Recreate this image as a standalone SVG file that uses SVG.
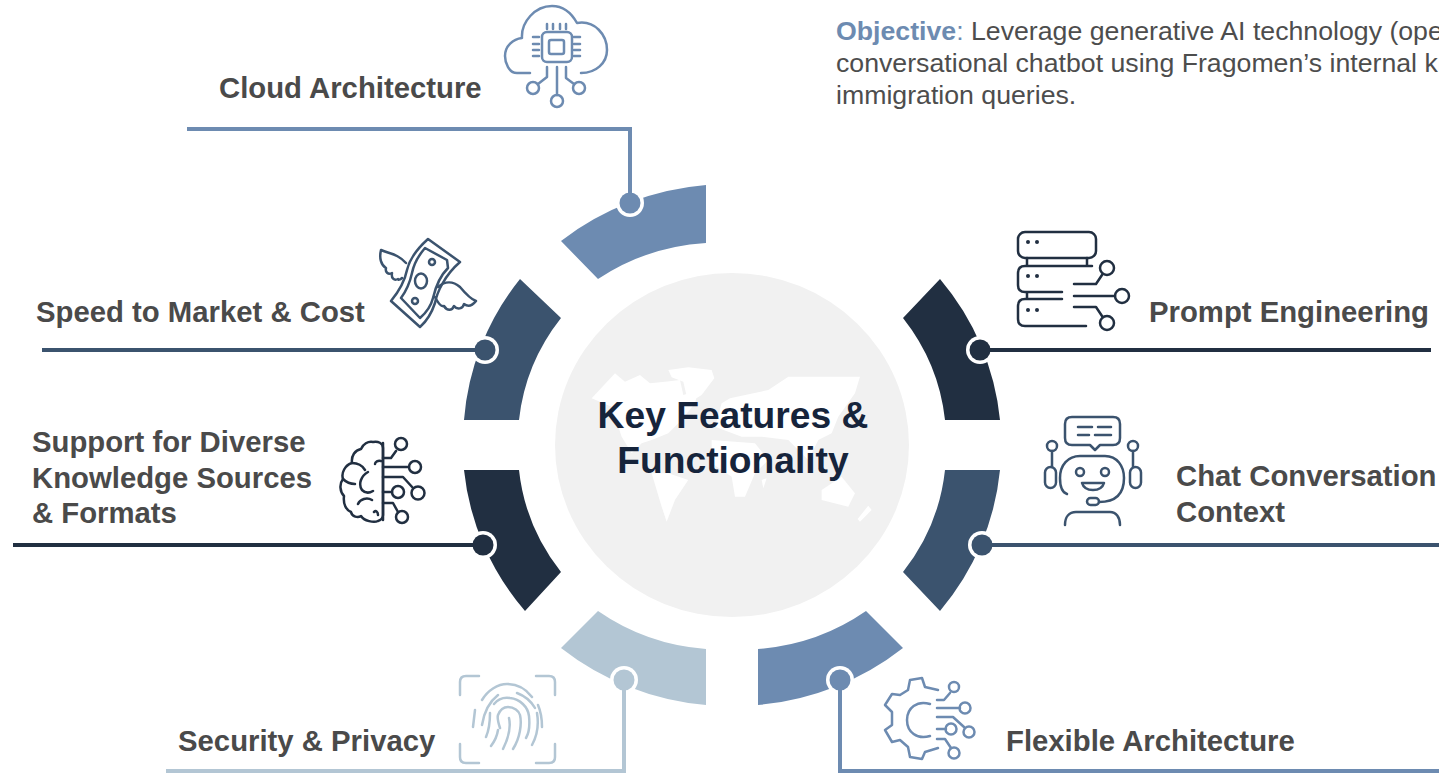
<svg xmlns="http://www.w3.org/2000/svg" width="1439" height="773" viewBox="0 0 1439 773">
<style>
text{font-family:"Liberation Sans",Arial,sans-serif}
.lbl{font-weight:700;font-size:29.3px;fill:#4a4a4a}
.obj{font-size:26.7px;fill:#4d4d4d}
.ttl{font-weight:700;font-size:37.2px;fill:#16243b;text-anchor:middle}
.ln{fill:none;stroke-width:4;stroke-linejoin:miter}
.ic{fill:none;stroke-width:2.5;stroke-linecap:round;stroke-linejoin:round}
.a{fill:#6d8bb1}.b{fill:#3b536e}.c{fill:#212f41}.d{fill:#b3c6d4}
.sa{stroke:#6d8bb1}.sb{stroke:#3b536e}.sc{stroke:#212f41}.sd{stroke:#b3c6d4}
</style>
<rect width="1439" height="773" fill="#fff"/>
<g id="hub">
<ellipse cx="732" cy="445" rx="177" ry="172" fill="#f1f1f1"/>
<g id="map" fill="#fff" transform="translate(555 340) scale(.3333)">
<path d="M110 175L180 100L210 125L255 105L285 130L330 125L375 120L385 165L430 150L420 190L380 240L340 280L290 300L260 310L230 340L200 290L170 200Z"/>
<path d="M340 90L400 82L470 90L478 115L440 165L400 190L385 125L350 112Z"/>
<path d="M290 400L340 400L400 420L360 480L335 545L320 500Z"/>
<path d="M525 175L640 150L700 110L915 110L900 160L850 230L830 280L790 300L760 360L700 300L620 290L560 290L480 260L500 190Z"/>
<path d="M470 300L600 310L640 360L600 400L570 470L540 470L530 410L470 370Z"/>
<path d="M620 420L635 415L625 445Z"/>
<path d="M800 450L860 410L900 460L880 500L800 480Z"/>
<path d="M940 497L950 510L915 545L908 537Z"/>
</g>
<text class="ttl" x="733" y="428">Key Features &amp;</text>
<text class="ttl" x="733" y="473">Functionality</text>
</g>
<g id="ring">
<path class="a" d="M706 185A269 261 0 0 0 561 241L598 279A213 204 0 0 1 706 243Z"/>
<path class="b" d="M520 279A269 261 0 0 0 464 420H519A213 204 0 0 1 561 318Z"/>
<path class="c" d="M464 470A269 261 0 0 0 525 611L561 572A213 204 0 0 1 519 470Z"/>
<path class="d" d="M561 648A269 261 0 0 0 706 705V649A213 204 0 0 1 598 611Z"/>
<path class="a" d="M758 705A269 261 0 0 0 903 648L866 611A213 204 0 0 1 758 649Z"/>
<path class="b" d="M940 611A269 261 0 0 0 1000 470H945A213 204 0 0 1 903 572Z"/>
<path class="c" d="M1000 420A269 261 0 0 0 940 279L903 318A213 204 0 0 1 945 420Z"/>
</g>
<g id="connectors">
<g fill="#fff">
<circle cx="630" cy="203" r="14"/><circle cx="485" cy="350" r="14"/><circle cx="483" cy="545" r="14"/><circle cx="624" cy="680" r="14"/><circle cx="840" cy="680" r="14"/><circle cx="982" cy="545" r="14"/><circle cx="980" cy="350" r="14"/>
</g>
<path class="ln sa" d="M187 129H630V203"/>
<path class="ln sb" d="M42 350H485"/>
<path class="ln sc" d="M13 545H483"/>
<path class="ln sd" d="M166 771H624V680"/>
<path class="ln sa" d="M840 680V771H1439"/>
<path class="ln sb" d="M982 545H1439"/>
<path class="ln sc" d="M980 350H1431"/>
<circle class="a" cx="630" cy="203" r="10.5"/>
<circle class="b" cx="485" cy="350" r="10.5"/>
<circle class="c" cx="483" cy="545" r="10.5"/>
<circle class="d" cx="624" cy="680" r="10.5"/>
<circle class="a" cx="840" cy="680" r="10.5"/>
<circle class="b" cx="982" cy="545" r="10.5"/>
<circle class="c" cx="980" cy="350" r="10.5"/>
</g>
<g id="objective">
<text class="obj" x="836" y="40"><tspan fill="#6d8bb1"><tspan font-weight="700">Objective</tspan>:</tspan> Leverage generative AI technology (ope</text>
<text class="obj" x="836" y="72">conversational chatbot using Fragomen’s internal kn</text>
<text class="obj" x="836" y="104">immigration queries.</text>
</g>
<g id="cloud-architecture">
<text class="lbl" x="219" y="98">Cloud Architecture</text>
<g class="ic sa">
<path d="M530 73H517C509 73 505 63 505 56C505 46 513 39 522 38C521 22 535 6 552 6C565 6 572 14 577 23C595 20 607 35 607 50C607 63 596 73 581 73"/>
<rect x="542" y="32" width="30" height="30" rx="5"/><rect x="549" y="40" width="15" height="14" rx="2"/>
<path d="M547 24V29M553 24V29M560 24V29M566 24V29M533 37H539M533 44H539M533 50H539M533 56H539M574 37H580M574 44H580M574 50H580M574 56H580"/>
<path d="M557 67V95M547 67V77L538 84M566 67V78L574 84"/>
<circle cx="557" cy="101" r="6"/><circle cx="533" cy="88" r="6"/><circle cx="579" cy="88" r="6"/>
</g>
</g>
<g id="speed-to-market">
<text class="lbl" x="36" y="322">Speed to Market &amp; Cost</text>
<g class="ic sb">
<path d="M428 239L460 262C445 275 437 292 435 303C432 312 428 320 420 327L391 301C400 290 405 280 407 270C410 257 418 248 428 239Z"/>
<path d="M425 248L447 260L448 268C440 276 436 285 433 298C431 306 427 312 420 318L401 298C407 290 410 282 412 273C414 263 419 255 425 248Z"/>
<circle cx="432" cy="262" r="3"/><ellipse cx="421" cy="281" rx="6" ry="7.5"/><circle cx="415" cy="301" r="3"/>
<path d="M406 263C398 254 390 254 381 250C379 258 381 265 386 268C385 272 388 275 392 273C391 278 394 281 398 279C398 280 400 280 402 278"/>
<path d="M438 287C445 281 453 281 460 287C465 293 470 299 476 301C472 306 468 307 464 304C463 309 457 310 454 306C452 311 447 311 444 306C441 307 438 303 435 297"/>
</g>
</g>
<g id="prompt-engineering">
<text class="lbl" x="1149" y="322">Prompt Engineering</text>
<g class="ic sc">
<rect x="1018" y="232" width="78" height="26" rx="7"/>
<path d="M1092 266H1025Q1018 266 1018 273V285Q1018 292 1025 292H1062M1062 299H1025Q1018 299 1018 306V319Q1018 326 1025 326H1086M1027 258V266M1087 258V266M1027 292V299"/>
<path d="M1074 284H1096L1102 275M1074 296H1115M1074 307H1096L1102 316"/>
<circle cx="1107" cy="268" r="7"/><circle cx="1122" cy="296" r="7"/><circle cx="1107" cy="323" r="7"/>
<g fill="#212f41" stroke="none"><circle cx="1028" cy="242" r="2"/><circle cx="1037" cy="242" r="2"/><circle cx="1028" cy="276" r="2"/><circle cx="1037" cy="276" r="2"/><circle cx="1028" cy="310" r="2"/><circle cx="1037" cy="310" r="2"/></g>
</g>
</g>
<g id="chat-conversation">
<text class="lbl" x="1176" y="486">Chat Conversation</text>
<text class="lbl" x="1176" y="522">Context</text>
<g class="ic sb">
<path d="M1072 417H1113Q1120 417 1120 424V438Q1120 445 1113 445H1100L1095 450L1090 445H1072Q1065 445 1065 438V424Q1065 417 1072 417Z"/>
<path d="M1078 427H1092M1098 427H1111M1078 435H1089M1095 435H1111"/>
<path d="M1067 494C1061 492 1060 485 1060 478C1060 465 1068 456 1080 456H1105C1117 456 1124 466 1124 478C1124 492 1118 502 1099 502"/>
<rect x="1087" y="498" width="12" height="7" rx="3.5"/>
<circle cx="1080" cy="472" r="4"/><circle cx="1105" cy="472" r="4"/>
<path d="M1082 483H1104Q1102 490 1093 490Q1084 490 1082 483Z"/>
<path d="M1065 525C1065 517 1069 512 1076 512H1110C1116 512 1120 517 1120 525"/>
<circle cx="1052" cy="446" r="5"/><path d="M1052 451V467"/><rect x="1045" y="467" width="11" height="21" rx="5.5"/>
<circle cx="1133" cy="446" r="5"/><path d="M1133 451V467"/><rect x="1130" y="467" width="11" height="21" rx="5.5"/>
</g>
</g>
<g id="support-knowledge">
<text class="lbl" x="32" y="452">Support for Diverse</text>
<text class="lbl" x="32" y="488">Knowledge Sources</text>
<text class="lbl" x="32" y="523">&amp; Formats</text>
<g class="ic sc">
<path d="M383 448C383 443 378 441 373 442C368 441 363 444 361 449C355 450 351 456 352 463C345 465 341 473 343 479C339 484 340 492 344 496C343 504 346 510 351 512C352 517 358 518 361 516C364 521 374 523 378 521C381 520 383 518 383 515Z"/>
<path d="M383 443V520M352 463C358 463 362 465 365 470M368 472C361 476 358 484 362 490C364 492 368 494 373 491M343 479C347 483 351 484 355 484M375 464C375 462 378 460 381 461M358 504C360 499 367 497 372 500M374 512C376 510 378 512 378 515"/>
<path d="M383 458H391L396 451M383 467H409M383 477H403L413 488M383 492H392M383 503H393L398 512"/>
<circle cx="401" cy="444" r="6"/><circle cx="415" cy="467" r="6"/><circle cx="418" cy="493" r="6.5"/><circle cx="398" cy="492" r="6"/><circle cx="402" cy="517" r="6"/>
</g>
</g>
<g id="security-privacy">
<text class="lbl" x="178" y="751">Security &amp; Privacy</text>
<g class="ic sd">
<path d="M460 695V682Q460 676 466 676H479M536 676H549Q555 676 555 682V695M460 744V757Q460 763 466 763H479M536 763H549Q555 763 555 757V744"/>
<path d="M473 727L475 710M482 700C488 690 498 684 507 684C517 684 526 689 532 697M538 705C541 712 542 720 542 727"/>
<path d="M482 725C484 712 489 702 498 695M517 693C525 696 531 701 535 708M537 713C539 725 537 736 532 745"/>
<path d="M490 713C490 722 489 730 486 737M494 704C498 699 503 697 510 698C520 699 528 707 529 716C530 726 529 733 526 738"/>
<path d="M500 728C498 722 497 718 498 715C500 710 504 707 508 707C514 707 519 711 520 715C522 724 520 738 513 749"/>
<path d="M509 718C511 727 509 737 503 749M498 730C497 737 494 742 491 746"/>
</g>
</g>
<g id="flexible-architecture">
<text class="lbl" x="1006" y="751">Flexible Architecture</text>
<g class="ic sa">
<path d="M938 690L925 687L922 678L910 680L908 690L900 695L892 694L885 705L892 712V725L885 730L892 742L900 740L908 747L910 757L922 759L925 752L938 748"/>
<path d="M930 704C917 700 907 708 907 720C907 732 917 740 930 736"/>
<path d="M937 700H944L950 693M937 708H960M937 717H953L964 727M937 729H946M937 739H945L951 748"/>
<circle cx="954" cy="687" r="5"/><circle cx="965" cy="708" r="5.5"/><circle cx="969" cy="732" r="5.5"/><circle cx="951" cy="729" r="5.5"/><circle cx="954" cy="753" r="5.5"/>
</g>
</g>
</svg>
